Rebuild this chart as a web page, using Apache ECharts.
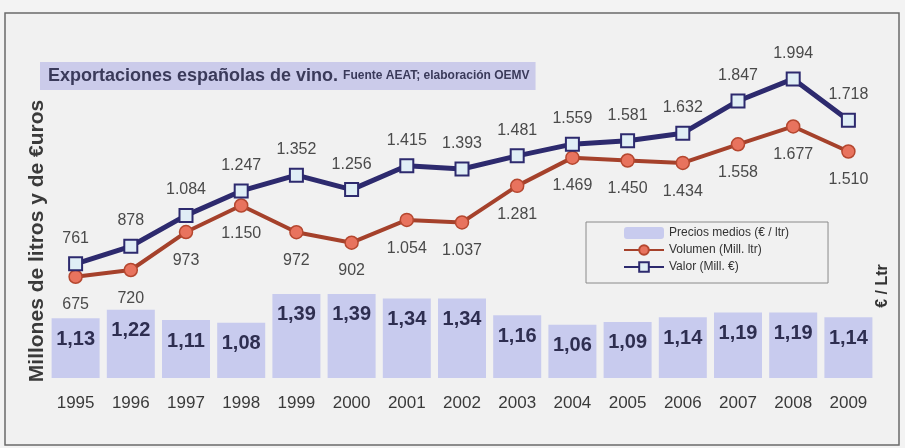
<!DOCTYPE html>
<html>
<head>
<meta charset="utf-8">
<script src="https://cdn.jsdelivr.net/npm/echarts@6/dist/echarts.min.js"></script>
<style>
  html, body { margin: 0; padding: 0; background: #f3f3f3; }
  #chart { width: 905px; height: 448px; }
</style>
</head>
<body>
<div id="chart"></div>
<script>
var years = ['1995', '1996', '1997', '1998', '1999', '2000', '2001', '2002',
             '2003', '2004', '2005', '2006', '2007', '2008', '2009'];
// precio medio €/litro
var precios = [1.13, 1.22, 1.11, 1.08, 1.39, 1.39, 1.34, 1.34, 1.16, 1.06, 1.09, 1.14, 1.19, 1.19, 1.14];
// millones de litros
var volumen = [675, 720, 973, 1150, 972, 902, 1054, 1037, 1281, 1469, 1450, 1434, 1558, 1677, 1510];
// millones de euros
var valor = [761, 878, 1084, 1247, 1352, 1256, 1415, 1393, 1481, 1559, 1581, 1632, 1847, 1994, 1718];

function miles(v) {
    return String(v).replace(/\B(?=(\d{3})+(?!\d))/g, '.');
}

var chart = echarts.init(document.getElementById('chart'));
var option = {
    backgroundColor: '#f3f3f3',
    textStyle: { fontFamily: "'Liberation Sans', Arial, sans-serif" },
    graphic: [
        {
            type: 'rect', z: -1, silent: true,
            shape: { x: 5, y: 13, width: 894, height: 432 },
            style: { fill: '#f1f1f1', stroke: '#6a6a6a', lineWidth: 1.5 }
        },
        {
            type: 'text', silent: true,
            x: 37, y: 241, rotation: Math.PI / 2,
            style: {
                text: 'Millones de litros y de €uros',
                font: "bold 21px 'Liberation Sans', Arial, sans-serif",
                fill: '#3a3a3a', align: 'center', verticalAlign: 'middle'
            }
        },
        {
            type: 'text', silent: true,
            x: 883, y: 286, rotation: Math.PI / 2,
            style: {
                text: '€ / Ltr',
                font: "bold 16px 'Liberation Sans', Arial, sans-serif",
                fill: '#333333', align: 'center', verticalAlign: 'middle'
            }
        }
    ],
    title: {
        left: 40,
        top: 62,
        padding: [5, 6, 5, 8],
        backgroundColor: '#cbcbea',
        text: '{a|Exportaciones españolas de vino.} {b|Fuente AEAT; elaboración OEMV}',
        textStyle: {
            rich: {
                a: { fontSize: 18, fontWeight: 'bold', color: '#3a3a5a', lineHeight: 18 },
                b: { fontSize: 12, fontWeight: 'bold', color: '#3a3a5a', lineHeight: 18 }
            }
        }
    },
    legend: {
        orient: 'vertical',
        left: 586,
        top: 222,
        padding: [5, 39, 10, 37],
        itemGap: 5,
        itemWidth: 40,
        itemHeight: 12,
        borderColor: '#8a8a8a',
        borderWidth: 1,
        textStyle: { fontSize: 12, color: '#333333' },
        data: ['Precios medios (€ / ltr)', 'Volumen (Mill. ltr)', 'Valor (Mill. €)']
    },
    grid: { left: 48, right: 29, top: 63, bottom: 70 },
    xAxis: {
        type: 'category',
        data: years,
        axisLine: { show: false },
        axisTick: { show: false },
        axisLabel: {
            margin: 17,
            fontSize: 17,
            color: '#3a3a3a',
            fontFamily: "'Liberation Sans Narrow', 'Liberation Sans', Arial, sans-serif"
        }
    },
    yAxis: [
        { type: 'value', min: 0, max: 2100, show: false },
        { type: 'value', min: 0.49, max: 3.86, show: false }
    ],
    series: [
        {
            name: 'Precios medios (€ / ltr)',
            type: 'bar',
            yAxisIndex: 1,
            barWidth: 48,
            data: precios,
            itemStyle: { color: '#c8cbee' },
            label: {
                show: true,
                position: 'insideTop',
                distance: 11,
                fontSize: 20,
                fontWeight: 'bold',
                color: '#2e2e50',
                formatter: function (p) { return p.value.toFixed(2).replace('.', ','); }
            }
        },
        {
            name: 'Volumen (Mill. ltr)',
            type: 'line',
            data: volumen,
            symbol: 'circle',
            symbolSize: 13,
            lineStyle: { color: '#a5412b', width: 4 },
            itemStyle: { color: '#e8735e', borderColor: '#b5472f', borderWidth: 1.5 },
            label: {
                show: true,
                position: 'bottom',
                distance: 13,
                fontSize: 16,
                color: '#4a4a4a',
                formatter: function (p) { return miles(p.value); }
            },
            z: 3
        },
        {
            name: 'Valor (Mill. €)',
            type: 'line',
            data: valor,
            symbol: 'rect',
            symbolSize: 13,
            lineStyle: { color: '#2d2a6e', width: 5 },
            itemStyle: { color: '#e0eef6', borderColor: '#2d2a6e', borderWidth: 2 },
            label: {
                show: true,
                position: 'top',
                distance: 10,
                fontSize: 16,
                color: '#4a4a4a',
                formatter: function (p) { return miles(p.value); }
            },
            z: 4
        }
    ]
};
chart.setOption(option);
</script>
</body>
</html>
